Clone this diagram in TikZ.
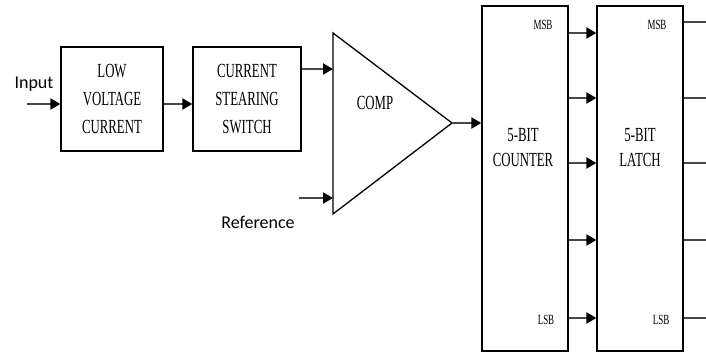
\documentclass[tikz,border=0pt]{standalone}
\usepackage{fontspec}
\setmainfont[FakeStretch=0.64]{Liberation Serif}
\newfontfamily\lblfont{Carlito}
\usetikzlibrary{positioning,arrows.meta}

\begin{document}
\begin{tikzpicture}[
    x=1pt, y=-1pt,
    block/.style={
        rectangle,
        draw,
        line width=1.3pt,
        minimum width=102pt,
        minimum height=104pt,
        align=center,
        font=\fontsize{20}{28}\selectfont
    },
    tall/.style={
        rectangle,
        draw,
        line width=1.3pt,
        minimum width=86pt,
        minimum height=345pt
    },
    title/.style={align=center, inner sep=0pt, font=\fontsize{20}{25}\selectfont},
    bit/.style={inner sep=0pt, font=\fontsize{14}{16}\selectfont},
    lbl/.style={inner sep=0pt, font=\lblfont\fontsize{18}{22}\selectfont},
    sig/.style={-{Triangle[length=10pt,width=11pt,color=black]}, line width=2pt, draw=black!72},
    wire/.style={line width=2pt, draw=black!72}
]

\useasboundingbox (0,0) rectangle (706,352);

\node[block] (lvc) at (112,99) {LOW\\VOLTAGE\\CURRENT};
\node[block, minimum width=108pt] (css) at (247,99) {CURRENT\\STEARING\\SWITCH};

\coordinate (cmpA) at (333,33);
\coordinate (cmpB) at (333,214);
\coordinate (cmpC) at (452,123);
\draw[line width=1.3pt, line join=miter] (cmpA) -- (cmpC) -- (cmpB) -- cycle;
\node[inner sep=0pt, font=\fontsize{20}{24}\selectfont] (cmp) at (375,103) {COMP};

\node[tall] (cnt) at (525,178.5) {};
\node[tall] (lat) at (640,178.5) {};
\node[title] (cntTxt) at (523,148) {5-BIT\\COUNTER};
\node[title] (latTxt) at (640,148) {5-BIT\\LATCH};

\node[bit] (cntMsb) at (543,25) {MSB};
\node[bit] (cntLsb) at (546,320) {LSB};
\node[bit] (latMsb) at (657,25) {MSB};
\node[bit] (latLsb) at (661,320) {LSB};

\node[lbl, anchor=base] (inLbl) at (34,89) {Input};
\node[lbl, anchor=base] (refLbl) at (258,229) {Reference};

\coordinate (inp) at (27,104);
\coordinate (cmpIn) at (333,69);
\coordinate (cmpRef) at (333,198);
\coordinate (refStart) at (299,198);

\draw[sig] (inp) -- (inp -| lvc.west);
\draw[sig] (lvc.east |- inp) -- (css.west |- inp);
\draw[sig] (css.east |- cmpIn) -- (cmpIn);
\draw[sig] (refStart) -- (cmpRef);
\draw[sig] (cmpC) -- (cmpC -| cnt.west);

\foreach \y in {33,98,163,240,318}
    \draw[sig] (cnt.east |- 0,\y) -- (lat.west |- 0,\y);

\coordinate (outEdge) at (706,0);
\coordinate (outTip) at (716,0);
\foreach \y in {22,98,163,240}
    \draw[wire] (lat.east |- 0,\y) -- (outEdge |- 0,\y);
\draw[sig] (lat.east |- 0,318) -- (outTip |- 0,318);

\end{tikzpicture}
\end{document}
